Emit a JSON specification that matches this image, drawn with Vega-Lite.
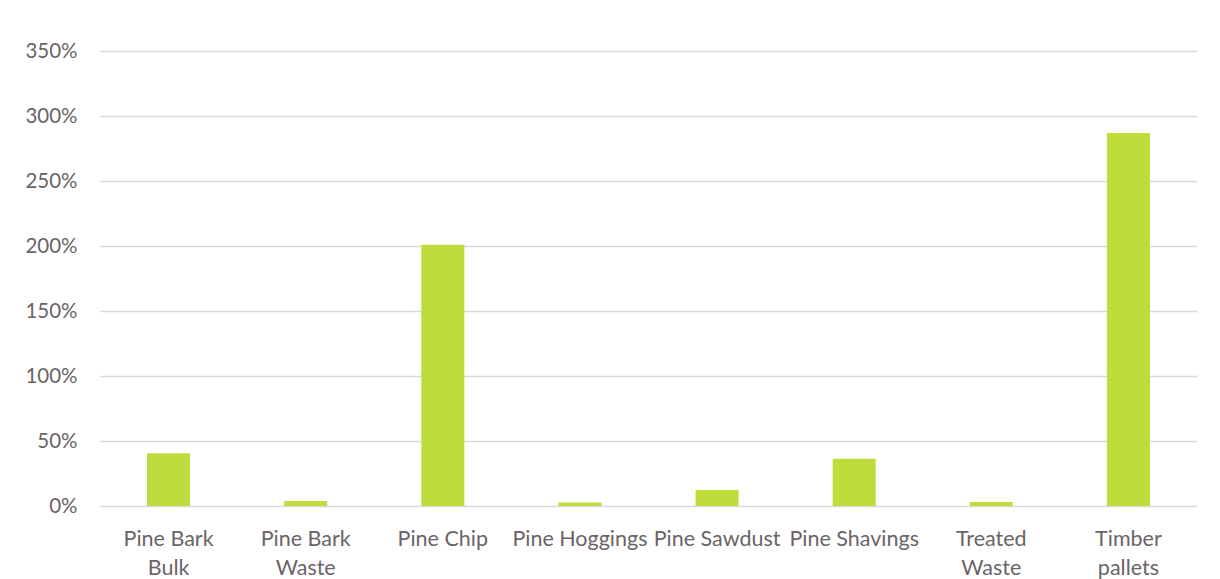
{
  "$schema": "https://vega.github.io/schema/vega-lite/v6.json",
  "autosize": {"type": "none"},
  "width": 1097,
  "height": 455,
  "padding": {"left": 100, "top": 51, "right": 23, "bottom": 73},
  "background": "white",
  "config": {
    "view": {"stroke": null},
    "font": "Lato"
  },
  "data": {
    "values": [
      {"category": "Pine Bark Bulk", "value": 0.405},
      {"category": "Pine Bark Waste", "value": 0.038},
      {"category": "Pine Chip", "value": 2.01},
      {"category": "Pine Hoggings", "value": 0.026},
      {"category": "Pine Sawdust", "value": 0.123},
      {"category": "Pine Shavings", "value": 0.364},
      {"category": "Treated Waste", "value": 0.031},
      {"category": "Timber pallets", "value": 2.87}
    ]
  },
  "mark": {"type": "bar", "color": "#bedd3c", "width": {"band": 0.314}},
  "encoding": {
    "x": {
      "field": "category",
      "type": "nominal",
      "sort": null,
      "title": null,
      "scale": {"paddingInner": 0, "paddingOuter": 0},
      "axis": {
        "labelAngle": 0,
        "domain": false,
        "ticks": false,
        "labelFontSize": 21.5,
        "labelColor": "#6b6466",
        "labelPadding": 22,
        "labelLineHeight": 29,
        "labelBaseline": "top",
        "labelLimit": 200,
        "labelExpr": "indexof(['Pine Bark Bulk','Pine Bark Waste','Treated Waste','Timber pallets'], datum.label) >= 0 ? [slice(datum.label, 0, lastindexof(datum.label, ' ')), slice(datum.label, lastindexof(datum.label, ' ') + 1)] : datum.label"
      }
    },
    "y": {
      "field": "value",
      "type": "quantitative",
      "title": null,
      "scale": {"domain": [0, 3.5], "nice": false},
      "axis": {
        "values": [0, 0.5, 1, 1.5, 2, 2.5, 3, 3.5],
        "format": ".0%",
        "domain": false,
        "ticks": false,
        "labelFontSize": 20.5,
        "labelColor": "#6b6466",
        "labelPadding": 23,
        "gridColor": "#d9d9d9",
        "gridWidth": 1.5
      }
    }
  }
}
